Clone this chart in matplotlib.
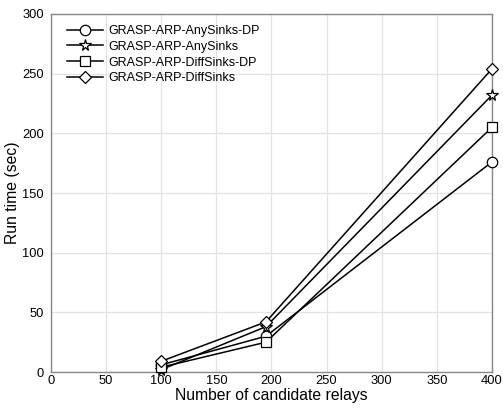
import matplotlib
matplotlib.use("Agg")
import matplotlib.pyplot as plt

plt.rcParams['font.family'] = ['Liberation Sans', 'DejaVu Sans']

x = [100, 195, 400]
series_names = ["GRASP-ARP-AnySinks-DP", "GRASP-ARP-AnySinks",
                "GRASP-ARP-DiffSinks-DP", "GRASP-ARP-DiffSinks"]
any_dp = [6, 30, 176]
any_s = [2, 38, 232]
diff_dp = [4, 25, 205]
diff_s = [9, 42, 254]
values = [any_dp, any_s, diff_dp, diff_s]
markers = ['o', '*', 's', 'D']
msizes = [7.5, 8.5, 6.5, 6.5]

fig = plt.figure(figsize=(5.03, 4.08), dpi=100)
ax = fig.add_axes([0.1014, 0.0882, 0.8766, 0.8775])

for name, v, m, ms in zip(series_names, values, markers, msizes):
    ax.plot(x, v, color='black', lw=1.1, marker=m, markersize=ms,
            markerfacecolor='white', markeredgecolor='black', markeredgewidth=0.9,
            label=name, clip_on=False, zorder=3)

ax.set_xlim(0, 400)
ax.set_ylim(0, 300)
ax.set_xticks(range(0, 401, 50))
ax.set_yticks(range(0, 301, 50))
ax.grid(True, color='#e3e3e3', lw=0.9)
ax.set_axisbelow(True)
for s in ax.spines.values():
    s.set_color('#888888')
    s.set_linewidth(1.0)
ax.tick_params(length=0, labelsize=9.3)
ax.tick_params(axis='x', pad=2.5)
ax.tick_params(axis='y', pad=5)
ax.set_xlabel("Number of candidate relays", fontsize=11.3, labelpad=0.5)
ax.set_ylabel("Run time (sec)", fontsize=11.3, labelpad=2)

leg = ax.legend(loc='upper left', frameon=False, fontsize=9, handlelength=2.9,
                labelspacing=0.3, borderaxespad=0.0, handletextpad=0.4,
                bbox_to_anchor=(0.025, 0.983))

fig.savefig("out.png", dpi=100)
